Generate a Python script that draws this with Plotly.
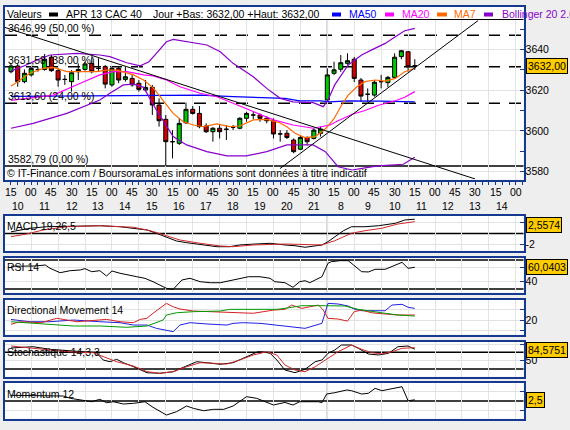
import plotly.graph_objects as go

W, H = 570, 430
FONT = "Liberation Sans, Arial, sans-serif"
NAVY = "#14398F"
GRID = "#E3E3E3"

# ------------------------------------------------------------------ data
candle_idx = list(range(61))
opens = [3629.1, 3631.9, 3624.2, 3627.5, 3630.2, 3630.2, 3636.2, 3629.6, 3625.3, 3624.2,
         3629.1, 3630.2, 3633.2, 3630.7, 3631.6, 3622.6, 3630.7, 3625.3, 3625.8, 3623.4,
         3620.1, 3621.4, 3612.7, 3605.7, 3594.7, 3593.9, 3604.0, 3610.6, 3608.6, 3602.4,
         3599.6, 3601.3, 3600.8, 3601.8, 3601.3, 3606.2, 3607.8, 3607.8, 3606.2, 3605.0,
         3598.5, 3598.8, 3595.5, 3591.0, 3596.8, 3596.3, 3598.8, 3615.2, 3628.3, 3630.3,
         3633.2, 3635.2, 3625.0, 3618.0, 3617.6, 3624.2, 3623.7, 3626.3, 3636.5, 3638.9,
         3632.0]
highs = [3633.0, 3633.0, 3630.2, 3631.5, 3631.5, 3637.8, 3637.3, 3630.7, 3627.5, 3629.9,
         3633.2, 3634.0, 3636.2, 3635.7, 3632.4, 3631.6, 3631.9, 3631.6, 3627.5, 3625.0,
         3625.0, 3622.6, 3616.0, 3607.8, 3600.4, 3606.2, 3613.9, 3612.2, 3612.2, 3603.7,
         3601.8, 3602.9, 3602.9, 3602.9, 3606.7, 3609.4, 3609.4, 3608.6, 3607.3, 3606.2,
         3600.4, 3600.4, 3596.3, 3597.5, 3597.3, 3601.3, 3602.1, 3630.7, 3634.0, 3637.3,
         3638.1, 3636.3, 3626.0, 3620.9, 3625.0, 3627.5, 3627.0, 3638.1, 3639.8, 3639.3,
         3635.2]
lows = [3628.3, 3621.7, 3623.4, 3626.7, 3629.1, 3629.6, 3629.0, 3621.7, 3622.6, 3619.3,
        3625.0, 3629.6, 3628.3, 3629.1, 3620.9, 3621.7, 3623.4, 3624.2, 3621.7, 3619.3,
        3619.3, 3607.8, 3602.1, 3582.79, 3586.5, 3593.1, 3603.4, 3608.0, 3601.3, 3599.0,
        3594.7, 3596.3, 3595.5, 3600.4, 3600.8, 3604.5, 3605.7, 3604.5, 3603.7, 3596.3,
        3594.7, 3596.0, 3589.0, 3590.6, 3593.0, 3595.8, 3597.2, 3614.5, 3627.5, 3629.0,
        3632.5, 3624.0, 3614.3, 3614.3, 3616.8, 3620.9, 3621.6, 3625.8, 3635.2, 3629.1,
        3630.0]
closes = [3631.9, 3624.2, 3628.3, 3630.7, 3630.2, 3635.2, 3629.6, 3625.0, 3625.3, 3628.6,
          3630.2, 3632.9, 3629.1, 3630.7, 3623.0, 3630.7, 3625.0, 3626.6, 3622.6, 3620.4,
          3621.4, 3612.7, 3605.0, 3594.7, 3594.7, 3603.7, 3610.6, 3608.6, 3602.1, 3599.6,
          3601.3, 3599.6, 3600.8, 3601.8, 3606.2, 3608.6, 3607.8, 3606.2, 3605.0, 3598.5,
          3598.5, 3596.8, 3589.8, 3596.8, 3594.7, 3600.4, 3600.9, 3627.5, 3630.0, 3633.5,
          3634.5, 3625.8, 3617.1, 3618.0, 3623.9, 3624.2, 3626.3, 3636.2, 3639.4, 3631.5,
          3632.0]

ma7_x = [0, 1.3, 2.8, 4.8, 6.3, 8.3, 10.7, 12.7, 14.2, 15.7, 18.2, 19.7, 21.2, 22.6, 24.1,
         25.6, 27.1, 28.6, 30.6, 32.5, 34.0, 36.0, 38.0, 39.9, 41.0, 42.2, 43.7, 45.2, 46.2,
         47.0, 48.0, 49.0, 50.1, 51.4, 52.6, 54.1, 55.6, 57.1, 58.5, 60.0]
ma7_y = [3622.0, 3625.0, 3628.3, 3630.7, 3631.2, 3629.1, 3629.1, 3629.1, 3629.9, 3629.9,
         3627.5, 3625.0, 3620.9, 3615.2, 3608.6, 3604.5, 3602.9, 3602.1, 3603.4, 3602.1,
         3602.4, 3605.4, 3605.7, 3604.0, 3602.0, 3598.8, 3596.7, 3597.2, 3599.6, 3602.0,
         3606.0, 3612.0, 3617.6, 3621.7, 3624.2, 3625.0, 3624.5, 3625.8, 3629.1, 3630.8]

ma20_x = [0, 3, 6.3, 10.3, 13.2, 15.2, 17.2, 19.7, 21.1, 23.1, 25.1, 28.1, 30.6, 33.0, 36.0,
          39.0, 41.9, 44.9, 47.4, 48.6, 50.7, 52.6, 54.5, 57.1, 58.5, 60.0]
ma20_y = [3615.0, 3616.2, 3617.6, 3623.4, 3627.5, 3629.1, 3629.1, 3627.5, 3627.0, 3625.0,
          3621.7, 3618.5, 3616.8, 3613.6, 3609.4, 3605.4, 3602.9, 3601.3, 3602.9, 3605.0,
          3608.2, 3610.0, 3612.5, 3614.8, 3616.5, 3619.3]

ma50_x = [0, 10, 20, 28.1, 33.0, 39.5, 40.7, 42.9, 46.0, 47.4, 50.0, 55.0, 60.0]
ma50_y = [3617.0, 3617.3, 3617.5, 3617.6, 3616.8, 3616.0, 3616.0, 3614.8, 3614.8, 3614.3,
          3614.8, 3614.6, 3614.3]

bbu_x = [0, 2, 4, 5.8, 9.8, 13.2, 14.7, 17.2, 19.2, 20.5, 21.6, 23.1, 24.1, 26.1, 29.1,
         31.1, 33.0, 36.0, 38.0, 40.0, 41.9, 44.9, 46.4, 47.1, 48.1, 50.1, 52.1, 53.6, 55.6,
         57.1, 58.5, 60.0]
bbu_y = [3629.5, 3632.0, 3635.0, 3637.3, 3638.1, 3637.3, 3636.5, 3633.5, 3632.0, 3634.0,
         3638.1, 3643.8, 3645.0, 3643.8, 3642.2, 3638.9, 3633.2, 3626.6, 3620.9, 3616.0,
         3614.3, 3613.9, 3611.9, 3615.2, 3622.6, 3632.4, 3637.3, 3639.8, 3643.0, 3646.3,
         3649.2, 3650.4]
bbl_x = [0, 3.3, 8.3, 13.2, 14.7, 16.7, 18.2, 19.7, 21.6, 24.1, 26.1, 29.1, 32.1, 35.0,
         38.0, 41.0, 44.9, 46.7, 48.6, 50.7, 52.6, 54.5, 58.3, 60.0]
bbl_y = [3601.3, 3603.7, 3608.6, 3615.2, 3618.5, 3622.6, 3623.0, 3621.4, 3610.3, 3597.2,
         3593.1, 3589.8, 3587.7, 3587.7, 3589.8, 3593.1, 3593.1, 3589.8, 3582.4, 3580.8,
         3581.8, 3582.8, 3583.6, 3587.0]

trend_down_x = [-1.14, 68.95]
trend_down_y = [3651.1, 3576.4]
trend_up_x = [39.97, 69.4]
trend_up_y = [3581.5, 3654.2]

fib_levels = [3646.99, 3631.58, 3613.60, 3582.79]
fib_pcts = [50.0, 38.0, 24.0, 0.0]

macd_x = [0, 2.8, 5.3, 10.5, 13.2, 16.2, 18.2, 20.2, 21.6, 23.1, 24.6, 26.1, 28.1, 30.6,
          32.5, 34.0, 35.5, 38.5, 40.7, 42.2, 43.7, 46.2, 47.1, 48.1, 49.4, 50.6, 52.6,
          54.6, 57.1, 58.5, 60.0]
macd_y = [0.3, 0.93, 1.21, 1.39, 1.39, 1.21, 0.93, 0.63, 0.04, -0.68, -1.34, -1.64, -1.93,
          -2.36, -2.36, -2.05, -1.93, -1.75, -2.05, -2.18, -2.46, -2.05, -1.46, -0.57, 0.5,
          1.21, 1.21, 1.39, 1.82, 2.41, 2.5574]
signal_x = [0, 2.3, 4.8, 8.3, 13.2, 18.2, 20.7, 22.6, 25.1, 28.1, 31.1, 33.0, 36.0, 40.7,
            46.2, 48.1, 50.6, 52.6, 55.1, 57.5, 60.0]
signal_y = [-0.57, -0.09, 0.63, 1.21, 1.39, 1.11, 0.5, -0.27, -1.16, -1.75, -2.23, -2.36,
            -2.05, -1.88, -2.05, -1.29, 0.04, 0.5, 0.93, 1.7, 2.11]

rsi_x = [0, 3.6, 5.1, 5.8, 7.3, 8.8, 10.3, 11.0, 12.0, 13.2, 14.2, 15.0, 16.2, 17.7, 18.7,
         19.9, 21.1, 23.1, 24.1, 25.4, 26.6, 28.1, 29.6, 31.1, 32.5, 34.0, 35.3, 37.0, 38.5,
         39.2, 40.7, 41.9, 42.9, 43.7, 44.4, 45.2, 46.2, 47.1, 47.6, 48.9, 50.1, 50.9, 52.1,
         53.1, 54.1, 55.6, 57.1, 58.1, 59.0, 60.0]
rsi_y = [61.5, 61.8, 63.2, 58.6, 52.5, 55.3, 56.3, 58.1, 53.9, 55.3, 47.9, 54.9, 51.7, 49.3,
         46.9, 44.7, 40.0, 30.8, 29.4, 42.4, 44.7, 40.0, 38.6, 38.6, 41.4, 44.7, 46.9, 46.9,
         44.7, 40.0, 38.6, 32.2, 40.0, 41.4, 38.6, 42.4, 46.9, 65.6, 67.8, 69.2, 69.2, 63.2,
         53.9, 53.5, 57.2, 57.2, 63.2, 66.9, 58.6, 60.0403]
rsi_levels = [70, 30]

dip_x = [0, 2.8, 5.8, 9.3, 13.2, 16.2, 18.2, 20.2, 21.6, 23.1, 24.1, 25.1, 26.6, 29.1, 32.1,
         33.0, 34.5, 37.0, 39.0, 40.7, 43.7, 46.2, 47.1, 48.6, 50.1, 51.1, 52.1, 54.1, 55.6,
         56.6, 58.1, 59.0, 60.0]
dip_y = [20.5, 18.4, 18.4, 20.0, 18.4, 17.5, 15.3, 15.3, 12.2, 10.0, 9.1, 15.3, 17.5, 16.3,
         15.3, 16.9, 17.5, 16.9, 15.3, 14.5, 12.2, 16.9, 35.6, 35.0, 33.1, 30.0, 28.7, 28.7,
         28.7, 34.0, 34.7, 31.9, 30.9]
dim_x = [0, 1.3, 4.5, 6.8, 9.8, 13.2, 14.2, 16.2, 18.2, 19.2, 20.2, 21.1, 22.1, 23.1, 24.1,
         25.1, 27.1, 29.1, 31.1, 34.0, 36.0, 39.0, 40.7, 41.7, 43.2, 45.7, 46.4, 47.1, 48.6,
         50.0, 51.0, 52.1, 53.6, 55.6, 57.5, 60.0]
dim_y = [16.0, 18.4, 17.5, 21.6, 18.4, 20.0, 20.6, 18.4, 17.5, 20.6, 21.6, 26.3, 30.9, 35.6,
         32.4, 30.3, 28.4, 27.8, 27.8, 26.3, 26.3, 29.3, 30.0, 34.0, 30.9, 34.0, 29.3, 21.6,
         20.9, 19.0, 27.8, 29.3, 26.8, 25.6, 24.7, 24.7]
adx_x = [0, 5.8, 9.3, 13.2, 17.2, 20.2, 21.6, 22.6, 23.1, 24.6, 27.1, 31.1, 32.5, 36.0,
         38.0, 39.5, 40.7, 43.2, 46.7, 49.6, 51.6, 53.6, 55.6, 57.5, 60.0]
adx_y = [18.4, 16.3, 14.4, 14.4, 13.2, 14.4, 17.5, 20.0, 24.7, 26.8, 27.8, 28.4, 30.0, 30.0,
         29.3, 30.0, 30.9, 33.4, 33.4, 33.1, 30.0, 27.8, 26.3, 24.7, 23.7]

stk_x = [0, 3.3, 5.8, 8.3, 10.7, 12.7, 13.7, 14.7, 15.7, 16.7, 18.2, 20.2, 22.1, 24.1, 25.6,
         27.6, 29.1, 31.1, 33.0, 35.0, 36.7, 37.5, 38.5, 39.5, 40.7, 42.2, 43.7, 45.2, 46.2,
         47.1, 48.1, 49.1, 50.6, 51.6, 53.1, 54.6, 56.1, 57.5, 59.0, 60.0]
stk_y = [88.0, 91.9, 84.1, 79.9, 76.9, 74.0, 52.1, 47.0, 54.2, 44.0, 32.0, 14.1, 12.3, 17.1,
         30.2, 47.0, 44.0, 39.2, 44.0, 62.0, 76.9, 76.0, 72.2, 52.1, 22.2, 14.1, 24.3, 47.0,
         52.1, 72.2, 82.0, 97.0, 97.0, 87.1, 70.1, 67.1, 72.2, 91.9, 94.0, 84.5751]
std_x = [0, 3.3, 5.8, 8.3, 12.2, 13.7, 15.7, 18.2, 20.2, 22.1, 24.1, 26.1, 28.1, 30.1, 32.1,
         34.0, 36.0, 38.0, 39.5, 40.7, 42.2, 43.7, 45.2, 47.1, 48.6, 50.6, 52.1, 53.6, 55.1,
         56.6, 58.1, 60.0]
std_y = [94.0, 87.1, 82.0, 76.9, 74.0, 62.0, 47.0, 34.1, 17.1, 12.3, 17.1, 32.0, 44.0, 42.2,
         40.1, 52.1, 67.1, 76.9, 67.1, 37.1, 22.2, 17.1, 32.0, 57.2, 76.9, 97.0, 84.1, 74.0,
         70.1, 76.9, 87.1, 88.9]
stoch_levels = [75, 25]

mom_x = [0, 4, 7.8, 8.8, 10.7, 12.0, 13.2, 14.2, 15.2, 16.7, 18.2, 19.9, 21.1, 23.1, 24.6,
         26.1, 27.1, 28.6, 30.1, 31.6, 33.0, 35.0, 36.5, 38.0, 39.0, 40.7, 41.9, 42.9, 44.4,
         45.7, 46.2, 46.9, 48.1, 49.9, 50.6, 52.1, 53.1, 54.1, 55.1, 56.6, 58.1, 59.0, 60.0]
mom_y = [12.0, 12.0, 10.5, 5.7, 0.6, -1.5, 3.6, -3.6, -1.5, -6.3, -4.9, -1.5, -13.3, -29.5,
         -22.5, -10.5, -15.4, -20.4, -17.5, -17.5, -10.5, 9.1, 5.7, -3.6, -8.4, -3.0, -8.4,
         -1.5, -1.5, -1.5, -3.6, 14.7, 17.5, 23.2, 21.7, 14.7, 16.2, 26.7, 21.7, 25.3, 30.1,
         0.6, 2.5]

minute_labels = ["15", "00", "45", "30"] * 6 + ["15", "00"]
hour_labels = ["10", "11", "12", "13", "14", "15", "16", "17", "18", "19", "20", "21",
               "8", "9", "10", "11", "12", "13", "14"]
day_break = 47

last_price = 3632.00
last_macd = 2.5574
last_rsi = 60.0403
last_stoch = 84.5751
last_mom = 2.5

# ------------------------------------------------------------------ helpers
def fmt(v, d):
    return f"{v:.{d}f}".replace(".", ",")

def pp(py):  # pixel row -> paper fraction
    return 1 - py / H

X0, X1 = 5, 523.5
XR = [-0.89, 76.15]

# panel geometry: (top px, bottom px, y range)
panels = [
    (7, 179.5, [3576.12, 3660.88]),
    (216, 250.5, [-3.036, 3.125]),
    (257.5, 292.5, [25.0, 73.6]),
    (299.5, 334.5, [6.45, 39.2]),
    (341.5, 376.5, [2.7, 107.5]),
    (383, 418.5, [-36.8, 37.9]),
]
# tick marks; labels hidden where the last-value box sits on them
ytickcfg = [
    ([3580, 3600, 3620, 3640], ["3580", "3600", "3620", "3640"]),
    ([-2, 2], ["-2", ""]),
    ([40, 60], ["40", ""]),
    ([10, 20, 30], ["", "20", ""]),
    ([50, 100], ["50", ""]),
    ([-20, 20], ["", ""]),
]

def val2px(k, v):
    top, bot, (lo, hi) = panels[k]
    return top + (hi - v) / (hi - lo) * (bot - top)

fig = go.Figure()

def line(x, y, color, ax, width=1.0):
    sfx = "" if ax == 1 else str(ax)
    fig.add_trace(go.Scatter(x=x, y=y, mode="lines", line=dict(color=color, width=width),
                             xaxis="x" + sfx, yaxis="y" + sfx, showlegend=False,
                             hoverinfo="skip"))

# main panel
line(ma50_x, ma50_y, "#0000FF", 1, 1.2)
line(bbu_x, bbu_y, "#8A00CC", 1, 1.2)
line(bbl_x, bbl_y, "#8A00CC", 1, 1.2)
line(ma20_x, ma20_y, "#FF00FF", 1, 1.2)
line(ma7_x, ma7_y, "#FF6A00", 1, 1.2)
fig.add_trace(go.Candlestick(
    x=candle_idx, open=opens, high=highs, low=lows, close=closes,
    increasing=dict(fillcolor="#00C800", line=dict(color="#000000", width=1)),
    decreasing=dict(fillcolor="#D40000", line=dict(color="#000000", width=1)),
    whiskerwidth=0, xaxis="x", yaxis="y", showlegend=False, hoverinfo="skip"))
line(trend_down_x, trend_down_y, "#000000", 1, 1)
line(trend_up_x, trend_up_y, "#000000", 1, 1)

# indicators
line(macd_x, macd_y, "#000000", 2)
line(signal_x, signal_y, "#D02828", 2)
line(rsi_x, rsi_y, "#000000", 3)
line(dip_x, dip_y, "#2020E0", 4)
line(dim_x, dim_y, "#D82020", 4)
line(adx_x, adx_y, "#009A00", 4)
line(stk_x, stk_y, "#000000", 5)
line(std_x, std_y, "#D02828", 5)
line(mom_x, mom_y, "#000000", 6)

# ------------------------------------------------------------------ layout
grid_x = [3 + 4 * m for m in range(19)]
layout = dict(width=W, height=H, margin=dict(l=0, r=0, t=0, b=0),
              paper_bgcolor="#EEEEEE", plot_bgcolor="#FFFFFF",
              showlegend=False, boxgap=0.25, boxgroupgap=0.2,
              font=dict(family=FONT, size=10.5, color="#000000"))
for k, (top, bot, rng) in enumerate(panels):
    sfx = "" if k == 0 else str(k + 1)
    xa = dict(domain=[X0 / W, X1 / W], range=XR, showgrid=True, gridcolor=GRID,
              gridwidth=1, tickvals=grid_x, showticklabels=False, ticks="",
              zeroline=False, showline=True, linecolor=NAVY, linewidth=2, mirror=True,
              anchor="y" + sfx, fixedrange=True, rangeslider=dict(visible=False))
    if k == 0:
        xa.update(ticks="outside", ticklen=3, tickcolor=NAVY,
                  minor=dict(tickvals=list(range(0, 77)), ticks="outside", ticklen=3,
                             tickcolor=NAVY, showgrid=False))
    tv, tt = ytickcfg[k]
    ya = dict(domain=[pp(bot), pp(top)], range=rng, side="right", anchor="x" + sfx,
              tickvals=tv, ticktext=tt, ticks="inside", ticklen=4, tickcolor=NAVY,
              showline=True, linecolor=NAVY, linewidth=2, mirror=True, showgrid=True,
              gridcolor=GRID, zeroline=False, fixedrange=True, ticklabelstandoff=-2,
              tickfont=dict(family=FONT, size=10.5, color="#000000"))
    if k == 0:
        ya["minor"] = dict(tickvals=[3590, 3610, 3630, 3650], ticks="inside", ticklen=4,
                           tickcolor=NAVY, showgrid=False)
    layout["xaxis" + sfx] = xa
    layout["yaxis" + sfx] = ya

shapes = []
annotations = []
txt = dict(family=FONT, size=10.5, color="#000000")

# day separator
for k in range(6):
    sfx = "" if k == 0 else str(k + 1)
    y1 = (panels[0][1] - 20) / (panels[0][1] - panels[0][0]) if k == 0 else 1
    shapes.append(dict(type="line", xref="x" + sfx, x0=day_break, x1=day_break,
                       yref="y" + sfx + " domain", y0=0, y1=y1,
                       line=dict(color="#A8A8A8", width=1.5), layer="below"))

# fibonacci levels
for lv, pct in zip(fib_levels, fib_pcts):
    shapes.append(dict(type="line", xref="x domain", x0=0, x1=1, yref="y", y0=lv, y1=lv,
                       line=dict(color="#000000", width=1.5,
                                 dash="solid" if pct == 0 else "12px,9px"),
                       layer="below"))
    annotations.append(dict(xref="paper", x=6 / W, xanchor="left", yref="y", y=lv,
                            yanchor="bottom", yshift=-1, showarrow=False,
                            text=f"{fmt(lv, 2)} ({fmt(pct, 2)} %)", font=txt))

# reference lines in indicator panels
for ax, levels in [(2, [0]), (3, rsi_levels), (5, stoch_levels), (6, [0])]:
    for lv in levels:
        shapes.append(dict(type="line", xref=f"x{ax} domain", x0=0, x1=1, yref=f"y{ax}",
                           y0=lv, y1=lv, line=dict(color="#000000", width=1.5),
                           layer="below"))

# header
shapes.append(dict(type="rect", xref="paper", yref="paper", x0=X0 / W, x1=X1 / W,
                   y0=pp(19.2), y1=pp(7.5), fillcolor="#FFFFFF", line=dict(width=0),
                   layer="above"))
shapes.append(dict(type="line", xref="paper", yref="paper", x0=X0 / W, x1=X1 / W,
                   y0=pp(19.5), y1=pp(19.5), line=dict(color="#000000", width=1),
                   layer="above"))
header_items = [
    ("Valeurs", "#000000", 5, None),
    ("APR 13 CAC 40", "#000000", 64, (49, 58)),
    ("Jour +Bas: " + fmt(last_price, 2) + " +Haut: " + fmt(last_price, 2), "#000000", 151, None),
    ("MA50", "#0000FF", 347, (332, 341)),
    ("MA20", "#FF00FF", 400, (385, 394)),
    ("MA7", "#FF6A00", 452, (437, 447)),
    ("Bollinger 20 2.0", "#8A00CC", 500, (484, 493)),
]
for text, color, xpx, bar in header_items:
    annotations.append(dict(xref="paper", yref="paper", x=xpx / W, y=pp(14),
                            xanchor="left", yanchor="middle", showarrow=False,
                            text=text, font=dict(family=FONT, size=10.5, color=color)))
    if bar:
        shapes.append(dict(type="rect", xref="paper", yref="paper", x0=bar[0] / W,
                           x1=bar[1] / W, y0=pp(16.5), y1=pp(12.5), fillcolor=color,
                           line=dict(width=0), layer="above"))

# footer
annotations.append(dict(xref="paper", yref="paper", x=5 / W, y=pp(173), xanchor="left",
                        yanchor="middle", showarrow=False, font=txt,
                        text="© IT-Finance.com / BoursoramaLes informations sont données à titre indicatif"))

# indicator names
for name, py in [("MACD 19,26,5", 226), ("RSI 14", 267), ("Directional Movement 14", 309.5),
                 ("Stochastique 14,3,3", 351.5), ("Momentum 12", 394)]:
    annotations.append(dict(xref="paper", yref="paper", x=5 / W, y=pp(py), xanchor="left",
                            yanchor="middle", showarrow=False, text=name, font=txt))

# time axis labels (two rows)
for k, lab in enumerate(minute_labels):
    annotations.append(dict(xref="x", yref="paper", x=3 * k, y=pp(192), xanchor="center",
                            yanchor="middle", showarrow=False, text=lab, font=txt))
for m, lab in enumerate(hour_labels):
    annotations.append(dict(xref="x", yref="paper", x=1 + 4 * m, y=pp(206),
                            xanchor="center", yanchor="middle", showarrow=False, text=lab,
                            font=txt))

# last-value boxes
for k, v, label in [(0, last_price, fmt(last_price, 2)), (1, last_macd, fmt(last_macd, 4)),
                    (2, last_rsi, fmt(last_rsi, 4)), (4, last_stoch, fmt(last_stoch, 4)),
                    (5, last_mom, fmt(last_mom, 1))]:
    top, bot, _ = panels[k]
    cy = min(max(val2px(k, v), top + 8.5), bot - 8.5)
    annotations.append(dict(xref="paper", yref="paper", x=526 / W, y=pp(cy),
                            xanchor="left", yanchor="middle", showarrow=False, text=label,
                            font=txt, bgcolor="#FFCC00", bordercolor="#000000",
                            borderwidth=1, borderpad=1))

layout["shapes"] = shapes
layout["annotations"] = annotations
fig.update_layout(**layout)
fig.write_html("out.html", config={"displayModeBar": False, "staticPlot": True},
               post_script="document.body.style.margin='0';document.body.style.overflow='hidden';")
